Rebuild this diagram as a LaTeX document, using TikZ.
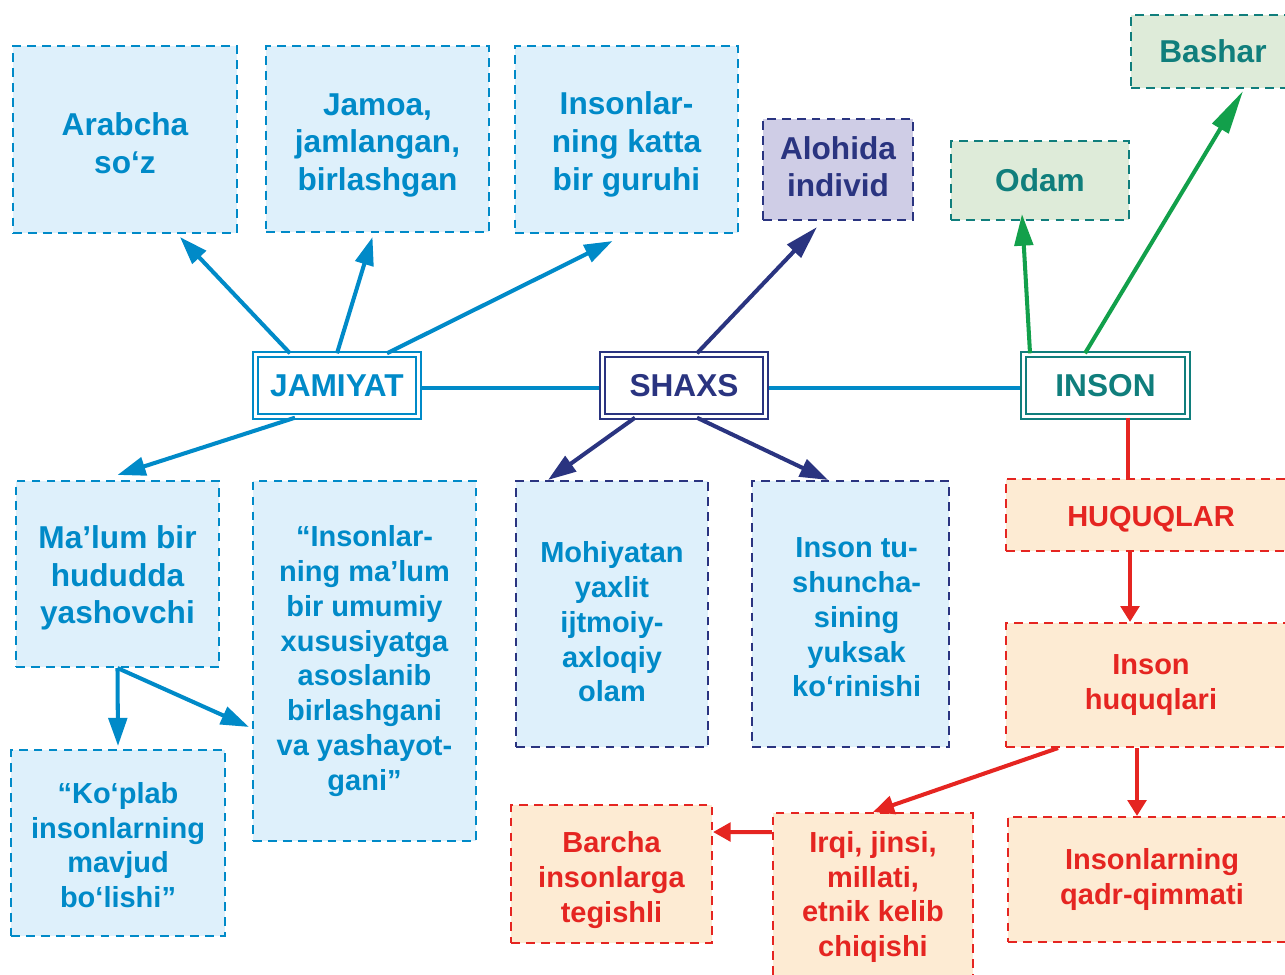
\documentclass[tikz,border=0pt]{standalone}
\usepackage{fontspec}
\setmainfont{Liberation Sans}
\usetikzlibrary{arrows.meta}

\definecolor{jblue}{RGB}{0,138,200}
\definecolor{jfill}{RGB}{222,240,251}
\definecolor{snavy}{RGB}{42,52,128}
\definecolor{sfill}{RGB}{207,205,230}
\definecolor{iteal}{RGB}{16,126,124}
\definecolor{igreen}{RGB}{18,160,75}
\definecolor{ifill}{RGB}{222,235,217}
\definecolor{hred}{RGB}{229,37,33}
\definecolor{hfill}{RGB}{253,235,211}

\newcommand{\bigtxt}{\bfseries\fontsize{18}{21.5}\selectfont}
\newcommand{\smalltxt}{\bfseries\fontsize{16.5}{19.8}\selectfont}
\newcommand{\dropby}[1]{\rule{0pt}{#1}}
\newcommand{\raiseby}[1]{\rule[-#1]{0pt}{0pt}}

\tikzset{
  dbox/.style={rectangle,dash pattern=on 5pt off 3.5pt,line width=1.2pt,
    align=center,inner sep=0pt},
  bluebox/.style={dbox,draw=jblue,fill=jfill,text=jblue},
  navybox/.style={dbox,draw=snavy,fill=jfill,text=jblue},
  lilabox/.style={dbox,draw=snavy,fill=sfill,text=snavy},
  tealbox/.style={dbox,draw=iteal,fill=ifill,text=iteal},
  redbox/.style={dbox,draw=hred,fill=hfill,text=hred},
  hub/.style={rectangle,draw=#1,text=#1,double=white,double distance=1.6pt,
    line width=1.1pt,fill=white,minimum width=3.25cm,minimum height=1.25cm,
    font=\bigtxt},
  arr/.style={line width=2.3pt,-{Triangle[length=#1,width=10.5pt]}},
  arr/.default=16pt,
}

\begin{document}
\begin{tikzpicture}[x=0.02cm,y=-0.02cm]
	\useasboundingbox (0,0) rectangle (1285,974);
	
	% central line
	\draw[jblue,line width=2.8pt] (337,388) -- (1105,388);
	
	% top row
	\node[bluebox,minimum width=4.48cm,minimum height=3.74cm,font=\bigtxt] (arab) at (125,139.5) {\dropby{17.6pt}Arabcha\\so‘z};
	\node[bluebox,minimum width=4.46cm,minimum height=3.72cm,font=\bigtxt] (jamoa) at (377.5,139) {\dropby{19.7pt}Jamoa,\\jamlangan,\\birlashgan};
	\node[bluebox,minimum width=4.46cm,minimum height=3.74cm,font=\bigtxt] (guruh) at (626.5,139.5) {\dropby{18.8pt}Insonlar-\\ning katta\\bir guruhi};
	\node[lilabox,minimum width=3cm,minimum height=2.02cm,font=\bigtxt] (aloh) at (838,169.5) {Alohida\\individ\raiseby{3.4pt}};
	\node[tealbox,minimum width=3.56cm,minimum height=1.58cm,font=\bigtxt] (odam) at (1040,180.5) {Odam};
	\node[tealbox,minimum width=3.28cm,minimum height=1.46cm,font=\bigtxt] (bashar) at (1213,51.5) {Bashar};
	
	% hubs
	\node[hub=jblue] (jam) at (337,385.5) {JAMIYAT};
	\node[hub=snavy] (shaxs) at (684,385.5) {SHAXS};
	\node[hub=iteal,minimum width=3.27cm] (inson) at (1105.5,385.5) {INSON};
	
	% lower left
	\node[bluebox,minimum width=4.06cm,minimum height=3.72cm,font=\bigtxt] (malum) at (117.5,574) {\dropby{17.6pt}Ma’lum bir\\hududda\\yashovchi};
	\node[bluebox,minimum width=4.46cm,minimum height=7.2cm,font=\smalltxt] (umumiy) at (364.5,661) {“Insonlar-\\ning ma’lum\\bir umumiy\\xususiyatga\\asoslanib\\birlashgani\\va yashayot-\\gani”};
	\node[bluebox,minimum width=4.28cm,minimum height=3.72cm,font=\smalltxt] (koplab) at (118,843) {\dropby{14.3pt}“Ko‘plab\\insonlarning\\mavjud\\bo‘lishi”};
	
	% lower middle
	\node[navybox,minimum width=3.84cm,minimum height=5.32cm,font=\smalltxt] (mohiy) at (612,614) {\dropby{21pt}Mohiyatan\\yaxlit\\ijtmoiy-\\axloqiy\\olam};
	\node[navybox,minimum width=3.94cm,minimum height=5.32cm,font=\smalltxt] (tush) at (850.5,614) {\hspace*{7pt}\dropby{15.4pt}Inson tu-\\\hspace*{7pt}shuncha-\\\hspace*{7pt}sining\\\hspace*{7pt}yuksak\\\hspace*{7pt}ko‘rinishi};
	
	% rights
	\node[redbox,minimum width=5.8cm,minimum height=1.44cm,font=\smalltxt] (huq) at (1151,515) {\dropby{16.5pt}HUQUQLAR};
	\node[redbox,minimum width=5.8cm,minimum height=2.48cm,font=\smalltxt] (ihuq) at (1151,685) {Inson\\huquqlari};
	\node[redbox,minimum width=5.76cm,minimum height=2.5cm,font=\smalltxt] (qadr) at (1152,879.5) {Insonlarning\\qadr-qimmati};
	\node[redbox,minimum width=4cm,minimum height=3.28cm,font=\smalltxt] (irqi) at (873,895) {\dropby{14.3pt}Irqi, jinsi,\\millati,\\etnik kelib\\chiqishi};
	\node[redbox,minimum width=4.02cm,minimum height=2.76cm,font=\smalltxt] (barcha) at (611.5,874) {\dropby{18.8pt}Barcha\\insonlarga\\tegishli};
	
	% JAMIYAT arrows
	\draw[arr,jblue] ([xshift=-.94cm]jam.north) -- ([xshift=1.1cm,yshift=-.06cm]arab.south);
	\draw[arr,jblue] (jam.north) -- ([xshift=-.1cm,yshift=-.08cm]jamoa.south);
	\draw[arr,jblue] ([xshift=1cm]jam.north) -- ([xshift=-.28cm,yshift=-.14cm]guruh.south);
	\draw[arr,jblue] ([xshift=-.84cm]jam.south) -- ([yshift=.1cm]malum.north);
	\draw[arr,jblue] (malum.south) -- ([yshift=.06cm]koplab.north);
	\draw[arr,jblue] (malum.south) -- ([xshift=-.06cm,yshift=-1.32cm]umumiy.west);
	
	% SHAXS arrows
	\draw[arr=19pt,snavy] ([xshift=.26cm]shaxs.north) -- ([xshift=-.42cm,yshift=-.12cm]aloh.south);
	\draw[arr,snavy] ([xshift=-.98cm]shaxs.south) -- ([xshift=-1.28cm]mohiy.north);
	\draw[arr,snavy] ([xshift=.26cm]shaxs.south) -- ([xshift=-.45cm]tush.north);
	
	% INSON arrows
	\draw[arr=18pt,igreen] ([xshift=-1.51cm]inson.north) -- ([xshift=-.36cm,yshift=.14cm]odam.south);
	\draw[arr=25pt,igreen] ([xshift=-.41cm]inson.north) -- ([xshift=.6cm,yshift=-.04cm]bashar.south);
	\coordinate (q1) at ([xshift=.45cm]inson.south);
	\draw[hred,line width=2.3pt] (q1) -- (q1 |- huq.north);
	\coordinate (q2) at ([xshift=-.42cm]huq.south);
	\draw[arr=9pt,hred] (q2) -- (q2 |- ihuq.north);
	\coordinate (q3) at ([xshift=-.28cm]ihuq.south);
	\draw[arr=9pt,hred] (q3) -- (q3 |- qadr.north);
	\draw[arr=12pt,hred] ([xshift=-1.86cm]ihuq.south) -- (irqi.north);
	\draw[arr=10pt,hred] ([yshift=1.26cm]irqi.west) -- ([yshift=.84cm]barcha.east);
\end{tikzpicture}
\end{document}
